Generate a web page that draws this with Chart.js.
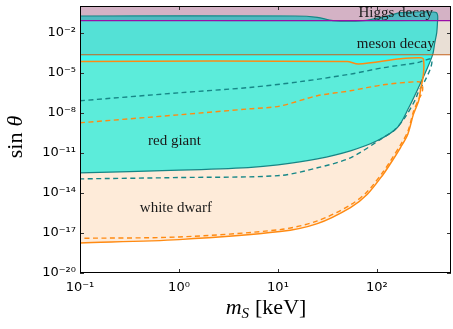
<!DOCTYPE html>
<html><head><meta charset="utf-8">
<script src="https://cdn.jsdelivr.net/npm/chart.js@4.4.0/dist/chart.umd.min.js"></script>
<style>html,body{margin:0;padding:0;background:#fff;}#wrap{width:453px;height:329px;position:relative;}</style>
</head><body><div id="wrap"><canvas id="c"></canvas></div>
<script>
// ---- axis data ----
const xTicks = [0.1, 1, 10, 100];
const yTicks = [1e-20, 1e-17, 1e-14, 1e-11, 1e-8, 1e-5, 1e-2];
const xRange = [0.1, 560];          // m_S in keV
const yRange = [1e-20, 1];          // sin theta

// ---- bands (log10 sin theta) ----
const higgsLowerLog = -1.1;         // magenta line, Higgs decay bound
const mesonLowerLog = -3.65;        // brown line, meson decay bound
const bandEdgeM = [0.1, 560, 560, 0.1];
const higgsBandLog = [0, 0, -1.1, -1.1];
const mesonBandLog = [-1.1, -1.1, -3.65, -3.65];

// ---- red giant contour (keV, log10 sin theta) ----
const rgM   = [0.1, 15, 25, 36, 72, 120, 173, 250, 367, 400, 411, 409, 402, 383, 367, 325, 263, 210, 161, 100, 54, 25, 10, 5, 1, 0.1];
const rgLog = [-0.75, -0.75, -0.85, -1.1, -1.1, -0.8, -0.5, -0.45, -0.45, -0.5, -0.75, -1.2, -2.0, -2.8, -3.6, -4.6, -6.1, -7.6, -9.1, -10.1, -10.85, -11.45, -11.9, -12.1, -12.3, -12.5];
// red giant parts overlapping the Higgs band / meson band, and the part outside white dwarf below meson line
const rgHiggsM   = [0.1, 15, 25, 36, 72, 120, 173, 250, 367, 400, 411, 409.5, 0.1];
const rgHiggsLog = [-0.75, -0.75, -0.85, -1.1, -1.1, -0.8, -0.5, -0.45, -0.45, -0.5, -0.75, -1.1, -1.1];
const rgMesonM   = [0.1, 409.5, 402, 383, 366, 0.1];
const rgMesonLog = [-1.1, -1.1, -2.0, -2.8, -3.65, -3.65];
const rgOnlyM    = [0.1, 366, 325, 292, 295, 295, 275, 173, 65, 50, 0.1];
const rgOnlyLog  = [-3.65, -3.65, -4.6, -5.3, -5.1, -4.0, -3.87, -3.95, -4.35, -4.15, -4.15];

// ---- white dwarf contour ----
const wdM   = [0.1, 50, 65, 173, 275, 295, 295, 275, 264, 234, 205, 173, 137, 116, 80, 54, 25, 10.5, 1, 0.1];
const wdLog = [-4.15, -4.15, -4.35, -3.95, -3.87, -4.0, -5.1, -6.35, -7.1, -8.1, -9.6, -10.6, -11.8, -12.6, -14.1, -15.1, -16.3, -16.9, -17.5, -17.75];

// ---- dashed contours ----
const tdM   = [0.1, 1, 5.2, 16.7, 54, 116, 255, 310, 350, 360, 350, 310, 260, 245, 194, 150, 116, 54, 25, 10.4, 1, 0.1];
const tdLog = [-7.1, -6.5, -6.1, -5.67, -5.1, -4.62, -4.25, -4.05, -3.95, -4.1, -4.6, -5.5, -6.5, -7.0, -8.3, -9.3, -9.85, -11.37, -12.12, -12.7, -12.85, -12.95];
const odM   = [0.1, 1, 5.2, 10.4, 25, 54, 116, 255, 280, 290, 285, 264, 234, 205, 173, 137, 116, 80, 54, 25, 10.5, 1, 0.1];
const odLog = [-8.75, -8.15, -7.7, -7.5, -6.72, -6.35, -5.9, -5.67, -5.75, -6.1, -6.5, -7.0, -7.9, -9.4, -10.4, -11.6, -12.4, -13.9, -14.9, -16.1, -16.75, -17.3, -17.4];

const pts = (m, lg) => m.map((v, i) => ({x: v, y: Math.pow(10, lg[i])}));
const sup = {'-':'\u207B','0':'\u2070','1':'\u00B9','2':'\u00B2','3':'\u00B3','4':'\u2074','5':'\u2075','6':'\u2076','7':'\u2077','8':'\u2078','9':'\u2079'};
const powLabel = v => '10' + String(Math.round(Math.log10(v))).split('').map(c => sup[c]).join('');

const NONE = 'rgba(0,0,0,0)';
const fillSet = (data, color, tension) => ({data, fill: 'shape', backgroundColor: color, borderColor: NONE, borderWidth: 1, tension});
const lineSet = (data, color, width, dash, tension) => ({data, fill: false, borderColor: color, borderWidth: width, borderDash: dash, tension});

const layers = [  // bottom -> top
  fillSet(pts(bandEdgeM, higgsBandLog), '#d4b2c5', 0),
  fillSet(pts(bandEdgeM, mesonBandLog), '#e9dfd5', 0),
  fillSet(pts(wdM, wdLog), '#feebd9', 0.3),
  fillSet(pts(rgM, rgLog), '#5cecda', 0.3),
  fillSet(pts(rgMesonM, rgMesonLog), '#54e1d6', 0),
  fillSet(pts(rgHiggsM, rgHiggsLog), '#4fbac1', 0.3),
  fillSet(pts(rgOnlyM, rgOnlyLog), '#40f7ef', 0),
  lineSet(pts(tdM, tdLog), '#178787', 1.4, [5, 3.5], 0.3),
  lineSet(pts(odM, odLog), '#ff8a12', 1.4, [5, 3.5], 0.3),
  lineSet(pts(rgM, rgLog), '#168585', 1.2, [], 0.3),
  lineSet(pts(wdM, wdLog), '#ff8a12', 1.5, [], 0.3),
  lineSet(pts([0.1, 560], [mesonLowerLog, mesonLowerLog]), '#c4621c', 1.2, [], 0),
  lineSet(pts([0.1, 560], [higgsLowerLog, higgsLowerLog]), '#9a0fa8', 1.3, [], 0),
];
layers.forEach((d, i) => { d.order = layers.length - i; d.pointRadius = 0; d.pointHitRadius = 0; d.clip = false; });

const decor = {
  id: 'decor',
  afterDraw(chart) {
    const {ctx, chartArea: a, scales: {x, y}} = chart;
    ctx.save();
    // ticks (inward) on all four sides
    ctx.strokeStyle = '#333'; ctx.lineWidth = 1;
    ctx.beginPath();
    xTicks.forEach(v => {
      const px = Math.round(x.getPixelForValue(v)) + 0.5;
      ctx.moveTo(px, a.bottom); ctx.lineTo(px, a.bottom - 4);
      ctx.moveTo(px, a.top); ctx.lineTo(px, a.top + 4);
    });
    yTicks.forEach(v => {
      const py = Math.round(y.getPixelForValue(v)) + 0.5;
      ctx.moveTo(a.left, py); ctx.lineTo(a.left + 4, py);
      ctx.moveTo(a.right, py); ctx.lineTo(a.right - 4, py);
    });
    ctx.stroke();
    // frame
    ctx.strokeStyle = '#000'; ctx.lineWidth = 1;
    ctx.strokeRect(a.left + 0.5, a.top + 0.5, a.right - a.left - 1, a.bottom - a.top - 1);
    // region labels
    ctx.fillStyle = '#1a1a1a';
    ctx.font = '15px "Liberation Serif"';
    ctx.textAlign = 'center'; ctx.textBaseline = 'alphabetic';
    const note = (t, m, lg) => ctx.fillText(t, x.getPixelForValue(m), y.getPixelForValue(Math.pow(10, lg)));
    note('Higgs decay', 155, -0.82);
    note('meson decay', 155, -3.18);
    note('red giant', 0.9, -10.41);
    note('white dwarf', 0.93, -15.43);
    // y axis title: sin θ
    ctx.fillStyle = '#000';
    ctx.save();
    ctx.translate(22, 137);
    ctx.rotate(-Math.PI / 2);
    ctx.textAlign = 'left';
    ctx.font = '22px "Liberation Serif"';
    const w1 = ctx.measureText('sin').width;
    ctx.font = 'italic 22px "Liberation Serif"';
    const w2 = ctx.measureText('\u03B8').width;
    const gap = 6;
    let sx = -(w1 + gap + w2) / 2;
    ctx.font = '22px "Liberation Serif"';
    ctx.fillText('sin', sx, 0);
    ctx.font = 'italic 22px "Liberation Serif"';
    ctx.fillText('\u03B8', sx + w1 + gap, 0);
    ctx.restore();
    // x axis title: m_S [keV]
    ctx.textAlign = 'left';
    ctx.font = 'italic 22px "Liberation Serif"';
    const mw = ctx.measureText('m').width;
    ctx.font = 'italic 15px "Liberation Serif"';
    const sw = ctx.measureText('S').width;
    ctx.font = '22px "Liberation Serif"';
    const kw = ctx.measureText('[keV]').width;
    const g2 = 6;
    let tx = 266 - (mw + sw + g2 + kw) / 2;
    const by = 314;
    ctx.font = 'italic 22px "Liberation Serif"';
    ctx.fillText('m', tx, by);
    ctx.font = 'italic 15px "Liberation Serif"';
    ctx.fillText('S', tx + mw, by + 4);
    ctx.font = '22px "Liberation Serif"';
    ctx.fillText('[keV]', tx + mw + sw + g2, by);
    ctx.restore();
  }
};

Chart.defaults.font.family = '"DejaVu Sans"';
new Chart(document.getElementById('c'), {
  type: 'line',
  data: {datasets: layers},
  options: {
    responsive: true, maintainAspectRatio: false, animation: false,
    events: [],
    layout: {padding: {top: 6, right: 2, left: 0, bottom: 0}},
    plugins: {legend: {display: false}, tooltip: {enabled: false}},
    scales: {
      x: {
        type: 'logarithmic', min: xRange[0], max: xRange[1],
        grid: {display: false, drawTicks: false}, border: {display: false},
        afterBuildTicks: s => { s.ticks = xTicks.map(v => ({value: v})); },
        afterFit: s => { s.height = 56; s.paddingLeft = 0; s.paddingRight = 0; },
        ticks: {autoSkip: false, maxRotation: 0, padding: 7, color: '#000', font: {size: 13}, callback: v => powLabel(v)}
      },
      y: {
        type: 'logarithmic', min: yRange[0], max: yRange[1],
        grid: {display: false, drawTicks: false}, border: {display: false},
        afterBuildTicks: s => { s.ticks = yTicks.map(v => ({value: v})); },
        afterFit: s => { s.width = 80; s.paddingTop = 0; s.paddingBottom = 0; },
        ticks: {autoSkip: false, padding: 4, color: '#000', font: {size: 13}, callback: v => powLabel(v)}
      }
    }
  },
  plugins: [decor]
});
</script></body></html>
